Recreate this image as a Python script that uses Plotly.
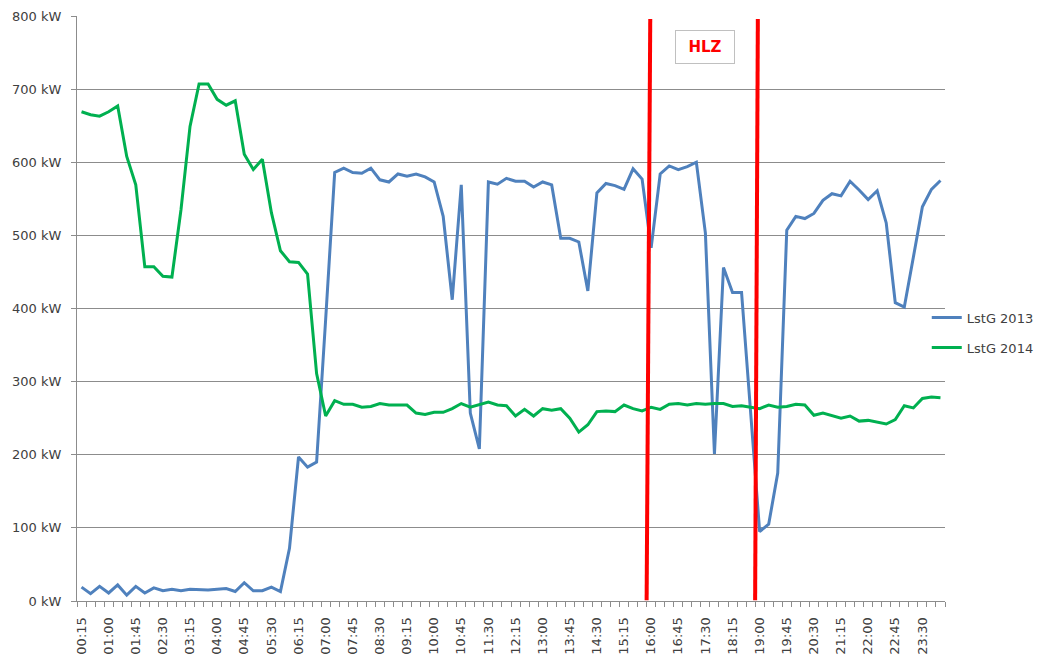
import plotly.graph_objects as go

# 15-minute slots 00:15 ... 24:00
times = [f"{(m // 60):02d}:{(m % 60):02d}" for m in range(15, 24 * 60 + 15, 15)]

lstg_2013 = [19, 10, 20, 11, 22, 8, 20, 11, 18, 14, 16, 14, 16, 15, 15, 16,
             17, 13, 25, 14, 14, 19, 13, 72, 197, 183, 190, 385, 586, 592, 586, 585,
             592, 576, 573, 584, 581, 584, 580, 573, 526, 412, 569, 257, 208, 573, 570, 578,
             574, 574, 566, 573, 569, 496, 496, 491, 424, 558, 571, 568, 563, 591, 577, 483,
             584, 595, 590, 594, 600, 503, 201, 456, 422, 422, 260, 95, 105, 175, 507, 526,
             523, 530, 548, 557, 554, 574, 562, 549, 561, 517, 408, 402, 470, 539, 563, 575]

lstg_2014 = [669, 665, 663, 669, 677, 608, 569, 457, 457, 444, 443, 535, 649, 707, 707, 686,
             678, 684, 611, 590, 604, 531, 479, 464, 463, 447, 311, 253, 274, 269, 269, 265,
             266, 270, 268, 268, 268, 257, 255, 258, 258, 263, 270, 265, 269, 272, 268, 267,
             253, 262, 253, 263, 261, 263, 250, 231, 241, 259, 260, 259, 268, 263, 260, 265,
             262, 269, 270, 268, 270, 269, 270, 270, 266, 267, 265, 263, 268, 265, 266, 269,
             268, 254, 257, 254, 250, 253, 246, 247, 244, 242, 248, 267, 264, 277, 279, 278]

y_ticks = [0, 100, 200, 300, 400, 500, 600, 700, 800]
y_labels = [f"{v} kW" for v in y_ticks]

# HLZ marker positions (slot label) and label
hlz_start = "16:00"
hlz_end = "19:00"
hlz_label = "HLZ"

idx = list(range(len(times)))
label_idx = idx[::3]
label_txt = [times[i] for i in label_idx]

FONT = "DejaVu Sans"
TXT = "#404040"
GRID = "#8c8c8c"

fig = go.Figure()
fig.add_trace(go.Scatter(x=idx, y=lstg_2013, mode="lines", name="LstG 2013",
                         legendgroup="a", line=dict(color="#4F81BD", width=3)))
fig.add_trace(go.Scatter(x=idx, y=lstg_2014, mode="lines", name="LstG 2014",
                         legendgroup="b", line=dict(color="#00B050", width=3)))

def slot(t):
    return times.index(t)

# red vertical lines (slightly slanted as in the original)
for t, top_off, bot_off in [(hlz_start, -0.1, -0.5), (hlz_end, -0.2, -0.5)]:
    fig.add_shape(type="line", xref="x", yref="y",
                  x0=slot(t) + top_off, y0=796, x1=slot(t) + bot_off, y1=1,
                  line=dict(color="#FF0000", width=4))

fig.add_annotation(x=slot("17:30"), y=757, xref="x", yref="y",
                   text=f"<b>{hlz_label}</b>",
                   showarrow=False, font=dict(family=FONT, size=15, color="#FF0000"),
                   bgcolor="white", bordercolor="#c0c0c0", borderwidth=1,
                   width=58, height=32, borderpad=0)

fig.update_layout(
    width=1040, height=657,
    margin=dict(l=77, r=95, t=16, b=56, autoexpand=False),
    paper_bgcolor="white", plot_bgcolor="white",
    font=dict(family=FONT, size=13, color=TXT),
    showlegend=True,
    legend=dict(x=0.979, y=0.510, xanchor="left", yanchor="top",
                tracegroupgap=10, bgcolor="rgba(0,0,0,0)",
                font=dict(family=FONT, size=13, color=TXT)),
    xaxis=dict(type="linear", range=[-0.5, len(times) - 0.5], automargin=False,
               tickmode="array", tickvals=label_idx, ticktext=label_txt,
               tickangle=-90, ticks="", showgrid=False,
               showline=True, linecolor=GRID, linewidth=1,
               tickfont=dict(family=FONT, size=13, color=TXT),
               ticklabelstandoff=10,
               minor=dict(ticks="outside", tickmode="array",
                          tickvals=[i - 0.5 for i in range(len(times) + 1)],
                          ticklen=5, tickcolor=GRID, showgrid=False),
               zeroline=False),
    yaxis=dict(range=[0, 800], automargin=False,
               tickmode="array", tickvals=y_ticks, ticktext=y_labels,
               showgrid=True, gridcolor=GRID, gridwidth=1,
               showline=True, linecolor=GRID, linewidth=1,
               ticks="outside", ticklen=5, tickcolor=GRID,
               tickfont=dict(family=FONT, size=13, color=TXT),
               ticklabelstandoff=7, zeroline=False),
)

fig.write_html("out.html",
               config={"displayModeBar": False},
               post_script="document.body.style.margin='0';document.body.style.overflow='hidden';")
